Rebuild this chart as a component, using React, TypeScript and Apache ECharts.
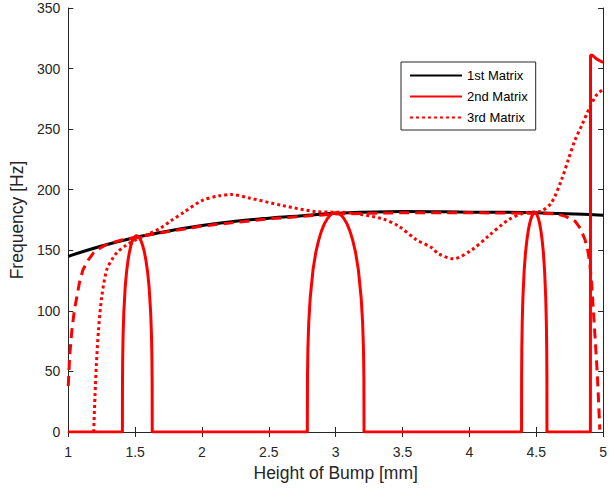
import React, { useEffect, useRef } from "react";
import * as echarts from "echarts";

const xTicks = { min: 1, max: 5, interval: 0.5 };
const yTicks = { min: 0, max: 350, interval: 50 };
const seriesNames = ["1st Matrix", "2nd Matrix", "3rd Matrix"];

const firstMatrix: number[][] = [
  [1, 145], [1.25, 153.5], [1.5, 160.5], [1.75, 166], [2, 170.5], [2.25, 174],
  [2.5, 176.5], [2.75, 178.5], [3, 180.5], [3.5, 182], [4, 181.5], [4.5, 181], [5, 179],
];

const secondMatrix: number[][] = [
  [1, 0], [1.405, 0],
  [1.4055, 40.5], [1.4071, 61.6], [1.4103, 81], [1.4155, 98.8], [1.426, 119.9], [1.4365, 132.8],
  [1.447, 141.8], [1.4575, 148.6], [1.468, 153.7], [1.4785, 157.5], [1.489, 160.1], [1.4995, 161.5],
  [1.51, 162], [1.5218, 161.5], [1.5336, 160.1], [1.5454, 157.5], [1.5572, 153.7], [1.569, 148.6],
  [1.5808, 141.8], [1.5926, 132.8], [1.6044, 119.9], [1.6162, 98.8], [1.6221, 81], [1.6256, 61.6],
  [1.6274, 40.5], [1.628, 0],
  [2.788, 0], [2.7891, 45.3], [2.7922, 68.8], [2.7986, 90.5], [2.8092, 110.4], [2.8304, 133.9],
  [2.8516, 148.4], [2.8728, 158.4], [2.894, 166], [2.9152, 171.8], [2.9364, 175.9], [2.9576, 178.8],
  [2.9788, 180.5], [3.0, 181], [3.0212, 180.5], [3.0424, 178.8], [3.0636, 175.9], [3.0848, 171.8],
  [3.106, 166], [3.1272, 158.4], [3.1484, 148.4], [3.1696, 133.9], [3.1908, 110.4], [3.2014, 90.5],
  [3.2078, 68.8], [3.2109, 45.3], [3.212, 0],
  [4.39, 0], [4.3905, 45.3], [4.392, 68.8], [4.395, 90.5], [4.4, 110.4], [4.41, 133.9], [4.42, 148.4],
  [4.43, 158.4], [4.44, 166], [4.45, 171.8], [4.46, 175.9], [4.47, 178.8], [4.48, 180.5], [4.49, 181],
  [4.499, 180.5], [4.508, 178.8], [4.517, 175.9], [4.526, 171.8], [4.535, 166], [4.544, 158.4],
  [4.553, 148.4], [4.562, 133.9], [4.571, 110.4], [4.5755, 90.5], [4.5782, 68.8], [4.5796, 45.3],
  [4.58, 0],
  [4.905, 0], [4.906, 311], [4.92, 311], [4.95, 308], [5, 305],
];

const secondMatrixDashed: number[][] = [
  [1, 38], [1.01, 62], [1.027, 84], [1.045, 100], [1.065, 112], [1.085, 124], [1.11, 134],
  [1.15, 142], [1.19, 148], [1.24, 152], [1.29, 155], [1.4, 158.5], [1.5, 160.5], [1.75, 165.5],
  [2, 170], [2.5, 176], [3, 180], [3.5, 181], [4, 181], [4.5, 180.5], [4.65, 180], [4.72, 178],
  [4.79, 174], [4.83, 168], [4.864, 159], [4.885, 150], [4.9, 140], [4.915, 122], [4.925, 104],
  [4.94, 78], [4.955, 51], [4.965, 28], [4.975, 2],
];

const thirdMatrix: number[][] = [
  [1.19, 0], [1.2, 30], [1.21, 55], [1.226, 84], [1.251, 112], [1.288, 134], [1.33, 143],
  [1.363, 148], [1.43, 154], [1.512, 159], [1.6, 163.5], [1.685, 168], [1.77, 174.5],
  [1.859, 181], [2.0, 191], [2.13, 195], [2.22, 196], [2.36, 193], [2.6, 187], [2.85, 182],
  [3.1, 181], [3.35, 176], [3.47, 170], [3.6, 159], [3.72, 152], [3.77, 147], [3.88, 143],
  [4.02, 150.5], [4.14, 161.5], [4.29, 175], [4.42, 181], [4.54, 182.5], [4.615, 189.5],
  [4.69, 208.5], [4.74, 225], [4.79, 241], [4.84, 253], [4.9, 268], [4.95, 278], [5, 283],
];

const FONT = "'Liberation Sans', Arial, Helvetica, sans-serif";
const AX = "#262626";

export default function App() {
  const ref = useRef<HTMLDivElement>(null);
  useEffect(() => {
    document.body.style.margin = "0";
    const chart = echarts.init(ref.current!, null, { renderer: "svg" });
    const axisCommon = {
      axisLine: { show: true, lineStyle: { color: AX, width: 1 } },
      axisTick: { show: true, inside: true, length: 5, lineStyle: { color: AX } },
      splitLine: { show: false },
    };
    chart.setOption({
      animation: false,
      backgroundColor: "#ffffff",
      grid: { left: 68, right: 5, top: 8, bottom: 57, containLabel: false },
      legend: {
        data: seriesNames,
        orient: "vertical",
        left: 401,
        top: 62,
        padding: [7, 8, 6, 8],
        itemWidth: 52,
        itemHeight: 13,
        itemGap: 8,
        borderColor: "#262626",
        borderWidth: 1,
        backgroundColor: "#ffffff",
        itemStyle: { opacity: 0 },
        textStyle: { fontFamily: FONT, fontSize: 13, color: "#000", lineHeight: 13 },
      },
      xAxis: [
        {
          type: "value", ...xTicks, position: "bottom", ...axisCommon,
          name: "Height of Bump [mm]", nameLocation: "middle", nameGap: 25,
          nameTextStyle: { fontFamily: FONT, fontSize: 17.5, color: AX },
          axisLabel: { fontFamily: FONT, fontSize: 14, color: AX, margin: 13 },
        },
        {
          type: "value", ...xTicks, position: "top", ...axisCommon,
          axisLabel: { show: false },
        },
      ],
      yAxis: [
        {
          type: "value", ...yTicks, position: "left", ...axisCommon,
          name: "Frequency [Hz]", nameLocation: "middle", nameGap: 40,
          nameTextStyle: { fontFamily: FONT, fontSize: 17.5, color: AX },
          axisLabel: { fontFamily: FONT, fontSize: 14, color: AX, margin: 8 },
        },
        {
          type: "value", ...yTicks, position: "right", ...axisCommon,
          axisLabel: { show: false },
        },
      ],
      series: [
        {
          name: seriesNames[0], type: "line", data: firstMatrix, smooth: 0.4, symbol: "none",
          lineStyle: { color: "#000000", width: 3 }, itemStyle: { color: "#000000" },
        },
        {
          name: seriesNames[1], type: "line", data: secondMatrix, symbol: "none",
          lineStyle: { color: "#ff0000", width: 3 }, itemStyle: { color: "#ff0000" },
        },
        {
          name: "2nd Matrix (dashed)", type: "line", data: secondMatrixDashed, symbol: "none",
          lineStyle: { color: "#ff0000", width: 3, type: [10, 6] }, itemStyle: { color: "#ff0000" },
        },
        {
          name: seriesNames[2], type: "line", data: thirdMatrix, smooth: 0.3, symbol: "none",
          lineStyle: { color: "#ff0000", width: 3, type: [3, 3] }, itemStyle: { color: "#ff0000" },
        },
      ],
    });
    return () => chart.dispose();
  }, []);
  return <div ref={ref} style={{ width: 610, height: 489 }} />;
}
